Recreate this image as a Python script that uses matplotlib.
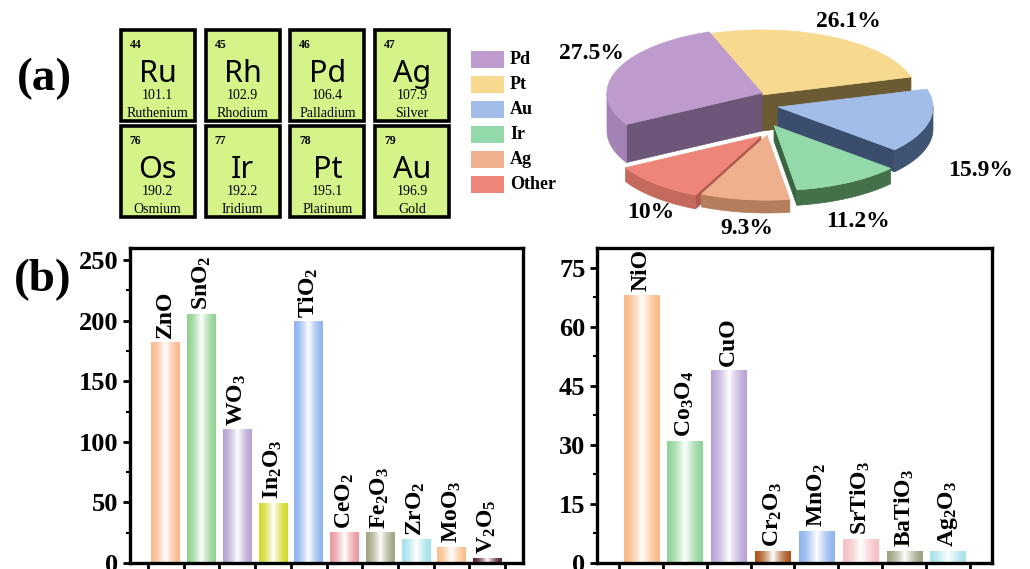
import numpy as np
import matplotlib
matplotlib.use('Agg')
import matplotlib.pyplot as plt
from matplotlib.patches import Polygon, Rectangle
from matplotlib.colors import to_rgb

plt.rcParams['font.family'] = ['Liberation Serif', 'DejaVu Sans']
plt.rcParams['font.weight'] = 'bold'
plt.rcParams['mathtext.fontset'] = 'custom'
plt.rcParams['mathtext.rm'] = 'Liberation Serif:bold'
plt.rcParams['mathtext.default'] = 'rm'

# periodic table cells
el_num = [44, 45, 46, 47, 76, 77, 78, 79]
el_sym = ['Ru', 'Rh', 'Pd', 'Ag', 'Os', 'Ir', 'Pt', 'Au']
el_mass = ['101.1', '102.9', '106.4', '107.9', '190.2', '192.2', '195.1', '196.9']
el_name = ['Ruthenium', 'Rhodium', 'Palladium', 'Silver',
           'Osmium', 'Iridium', 'Platinum', 'Gold']

# noble metal share (%)
pie_names = ['Pd', 'Pt', 'Au', 'Ir', 'Ag', 'Other']
pie_share = [27.5, 26.1, 15.9, 11.2, 9.3, 10.0]

# oxide supports
ox1 = ['ZnO', 'SnO$_2$', 'WO$_3$', 'In$_2$O$_3$', 'TiO$_2$', 'CeO$_2$',
       'Fe$_2$O$_3$', 'ZrO$_2$', 'MoO$_3$', 'V$_2$O$_5$']
n1 = [182, 205, 110, 49, 199, 25, 25, 19, 13, 4]
ox2 = ['NiO', 'Co$_3$O$_4$', 'CuO', 'Cr$_2$O$_3$', 'MnO$_2$', 'SrTiO$_3$',
       'BaTiO$_3$', 'Ag$_2$O$_3$']
n2 = [68, 31, 49, 3, 8, 6, 3, 3]

col1 = ['#f9b98a', '#8fd18f', '#b6a3d3', '#d2dc2a', '#8fb4ef', '#eb9aa0',
        '#a2a583', '#a6e2ee', '#fbbf8c', '#5a1f30']
col2 = ['#fbb987', '#8fd59a', '#b9a3d6', '#a8541a', '#8fb4ef', '#f7c1c4',
        '#9da27f', '#a9e3ea']

top_c = ['#bd9bcc', '#f7da90', '#a2bde8', '#93d9a9', '#efb090', '#ef8579']
wall_c = ['#a382b6', '#8a7440', '#3f5372', '#44704a', '#b47d5c', '#c5695c']
cut_c = ['#6d5779', '#6b5b32', '#3b4d6d', '#3b6540', '#a06b50', '#b05a4f']
# pull-out of each slice on screen (px)
pie_shift = [(0, 0), (0, 0), (16, -2), (12, 10), (5, 17), (-1, 19)]

fig = plt.figure(figsize=(10.30, 5.69), dpi=100)
ax0 = fig.add_axes([0, 0, 1, 1])
ax0.set_xlim(0, 1030)
ax0.set_ylim(569, 0)
ax0.axis('off')

ax0.text(44, 79, '(a)', fontsize=34, ha='center', va='center')
ax0.text(43, 280, '(b)', fontsize=34, ha='center', va='center')

# periodic table
for i in range(8):
    x0 = 120.7 + (i % 4) * 84.8
    y0 = 30 + (i // 4) * 96
    ax0.add_patch(Rectangle((x0, y0), 74, 91, fc='#d4f48a', ec='black', lw=2.6))
    xc = x0 + 37
    ax0.text(x0 + 9, y0 + 15, str(el_num[i]), fontsize=8.5, va='center')
    ax0.text(xc, y0 + 44, el_sym[i], fontsize=22, family='Noto Sans',
             weight='normal', ha='center', va='center')
    ax0.text(xc, y0 + 65, el_mass[i], fontsize=10, weight='normal',
             ha='center', va='center')
    ax0.text(xc, y0 + 83, el_name[i], fontsize=10, weight='normal',
             ha='center', va='center')

# legend
for j, nm in enumerate(pie_names):
    yc = 59 + j * 25
    ax0.add_patch(Rectangle((471, yc - 8.5), 33, 17, fc=top_c[j], ec='none'))
    ax0.text(510, yc, nm, fontsize=13, va='center')

# 3D pie, slice height follows the share
cx, cy, rx, ry = 762, 131, 155, 65
kz = 38 / 27.5


def pp(a, r, z, dx, dy):
    t = np.radians(a)
    return (cx + dx + rx * r * np.cos(t), cy + dy - ry * r * np.sin(t) - z)


spans = {}
start = 110.0
for nm in ['Pt', 'Au', 'Ir', 'Ag', 'Other', 'Pd']:
    v = pie_share[pie_names.index(nm)]
    spans[nm] = (start - v * 3.6, start)
    start -= v * 3.6

zz = 10
for nm in ['Pt', 'Pd', 'Au', 'Other', 'Ir', 'Ag']:
    k = pie_names.index(nm)
    a1, a2 = spans[nm]
    h = pie_share[k] * kz
    dx, dy = pie_shift[k]
    # cut faces
    for a, vis in [(a2, np.cos(np.radians(a2)) < 0), (a1, np.cos(np.radians(a1)) > 0)]:
        if vis:
            quad = [pp(0, 0, h, dx, dy), pp(a, 1, h, dx, dy),
                    pp(a, 1, 0, dx, dy), pp(0, 0, 0, dx, dy)]
            ax0.add_patch(Polygon(quad, fc=cut_c[k], ec=cut_c[k], lw=0.5, zorder=zz))
    zz += 1
    # outer wall, front part only
    lo, hi = max(a1, -180), min(a2, 0)
    if lo < hi:
        aa = np.linspace(lo, hi, 60)
        wall = [pp(a, 1, h, dx, dy) for a in aa] + [pp(a, 1, 0, dx, dy) for a in aa[::-1]]
        ax0.add_patch(Polygon(wall, fc=wall_c[k], ec=wall_c[k], lw=0.5, zorder=zz))
    zz += 1
    aa = np.linspace(a1, a2, 80)
    top = [pp(0, 0, h, dx, dy)] + [pp(a, 1, h, dx, dy) for a in aa]
    ax0.add_patch(Polygon(top, fc=top_c[k], ec=top_c[k], lw=0.5, zorder=zz))
    zz += 1

pie_lab_xy = [(592, 53), (848, 21), (981, 170), (858, 221), (747, 228), (651, 212)]
for k, v in enumerate(pie_share):
    ax0.text(*pie_lab_xy[k], f'{v:g}%', fontsize=17, ha='center', va='center', zorder=50)


def shade(c):
    u = np.linspace(-1, 1, 64)
    w = (1 - np.abs(u)) ** 1.5
    base = np.array(to_rgb(c))
    img = base[None, :] * (1 - w[:, None]) + w[:, None]
    return img[None, :, :]


def bar_panel(ax, names, vals, cols, ymax, step):
    x = np.arange(1, len(vals) + 1)
    bars = ax.bar(x, vals, width=0.8, color=cols, zorder=1)
    for b, c in zip(bars, cols):
        x0, w, h = b.get_x(), b.get_width(), b.get_height()
        ax.imshow(shade(c), extent=(x0, x0 + w, 0, h), aspect='auto',
                  interpolation='bilinear', zorder=2)
    for xi, v, s in zip(x, vals, names):
        ax.annotate(s, (xi, v), xytext=(0, 3), textcoords='offset points',
                    rotation=90, ha='center', va='bottom', fontsize=17)
    ax.set_xlim(0, len(vals) + 1)
    ax.set_ylim(0, ymax)
    ax.set_yticks(np.arange(0, ymax, step))
    ax.set_yticks(np.arange(0, ymax, step / 2), minor=True)
    ax.set_xticks(np.arange(0.5, len(vals) + 1, 1))
    ax.set_xticklabels([])
    ax.tick_params(direction='out', length=5, width=2, labelsize=19)
    ax.tick_params(which='minor', direction='out', length=3, width=1.5)
    for sp in ax.spines.values():
        sp.set_linewidth(2.4)


axl = fig.add_axes([130 / 1030, 6 / 569, 393 / 1030, 315 / 569])
bar_panel(axl, ox1, n1, col1, 260, 50)
axr = fig.add_axes([597.3 / 1030, 6.3 / 569, 394.4 / 1030, 314.4 / 569])
bar_panel(axr, ox2, n2, col2, 80, 15)

fig.savefig('out.png', dpi=100)
